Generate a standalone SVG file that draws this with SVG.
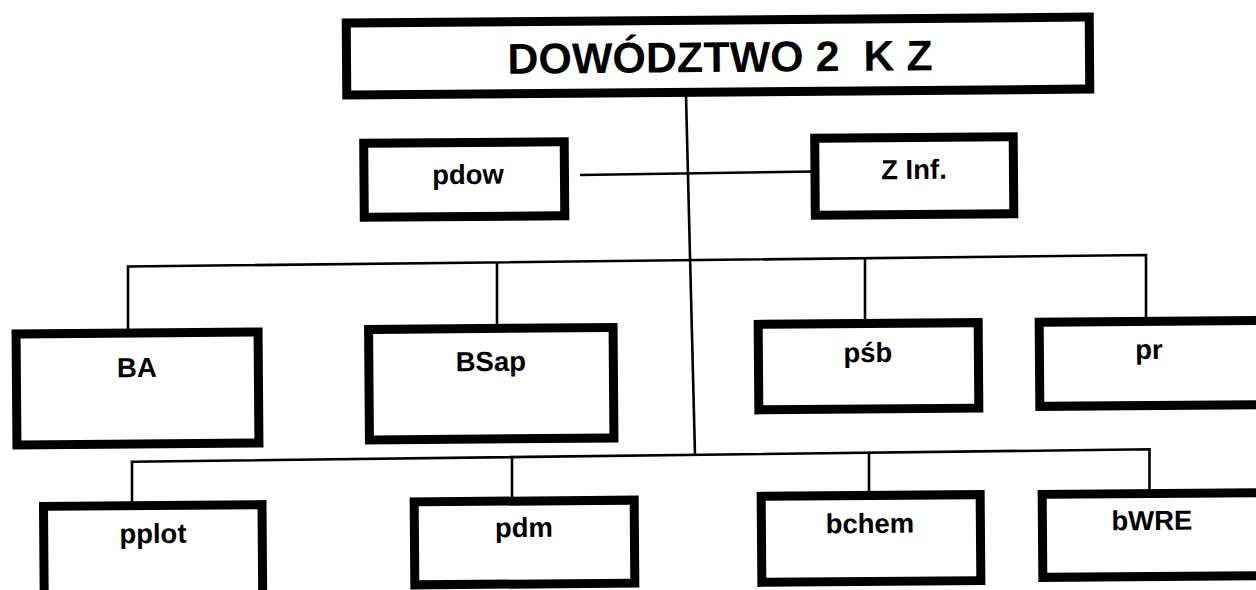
<svg xmlns="http://www.w3.org/2000/svg" width="1256" height="590" viewBox="0 0 1256 590">
  <style>
    .box { fill: #ffffff; stroke: #000000; stroke-width: 9; }
    .lbl { font-family: "Liberation Sans", Arial, sans-serif; font-weight: bold; font-size: 27.5px; text-anchor: middle; fill: #000000; }
    .title { font-size: 43px; white-space: pre; }
    .conn { fill: none; stroke: #000000; stroke-width: 2.6; stroke-linecap: butt; }
  </style>
  <rect x="0" y="0" width="1256" height="590" fill="#ffffff"/>
  <g id="connectors">
    <path class="conn" d="M686 96 L695 455"/>
    <path class="conn" d="M580 175 L815 171.5"/>
    <path class="conn" d="M128 330 L128 266.5 L1146 255 L1146 318"/>
    <path class="conn" d="M497 262.3 L497 325"/>
    <path class="conn" d="M865 258.2 L865 320"/>
    <path class="conn" d="M132 502 L132 461.7 L1149.5 449.3 L1149.5 490"/>
    <path class="conn" d="M512 457 L512 497"/>
    <path class="conn" d="M869 452.7 L869 492"/>
  </g>
  <g id="node-dowodztwo" transform="rotate(-0.45 718 56)">
    <rect class="box" x="346.5" y="20" width="743" height="72"/>
    <text class="lbl title" x="720" y="72" xml:space="preserve">DOWÓDZTWO 2  K Z</text>
  </g>
  <g id="node-pdow" transform="rotate(-0.45 464 180)">
    <rect class="box" x="364" y="142.5" width="200.5" height="74"/>
    <text class="lbl" x="468" y="184">pdow</text>
  </g>
  <g id="node-zinf" transform="rotate(-0.45 914 176)">
    <rect class="box" x="815" y="137.5" width="198.5" height="77"/>
    <text class="lbl" x="914" y="179">Z Inf.</text>
  </g>
  <g id="node-ba" transform="rotate(-0.45 137.5 388.5)">
    <rect class="box" x="16.5" y="333" width="242" height="111"/>
    <text class="lbl" x="137" y="377">BA</text>
  </g>
  <g id="node-bsap" transform="rotate(-0.45 491 384)">
    <rect class="box" x="369" y="328.5" width="244.5" height="110.5"/>
    <text class="lbl" x="491" y="371">BSap</text>
  </g>
  <g id="node-psb" transform="rotate(-0.45 868.5 366)">
    <rect class="box" x="758.5" y="323.5" width="220" height="85.5"/>
    <text class="lbl" x="868" y="362">pśb</text>
  </g>
  <g id="node-pr" transform="rotate(-0.45 1150 364)">
    <rect class="box" x="1039.5" y="321.3" width="222" height="84.2"/>
    <text class="lbl" x="1149" y="359">pr</text>
  </g>
  <g id="node-pplot" transform="rotate(-0.45 153 545)">
    <rect class="box" x="43.8" y="505.5" width="218.5" height="100"/>
    <text class="lbl" x="153" y="543">pplot</text>
  </g>
  <g id="node-pdm" transform="rotate(-0.45 524.5 542.5)">
    <rect class="box" x="414.5" y="501" width="220" height="83"/>
    <text class="lbl" x="524" y="537">pdm</text>
  </g>
  <g id="node-bchem" transform="rotate(-0.45 871 538.5)">
    <rect class="box" x="761.5" y="495.5" width="219" height="86"/>
    <text class="lbl" x="870" y="533">bchem</text>
  </g>
  <g id="node-bwre" transform="rotate(-0.45 1150 535)">
    <rect class="box" x="1042.5" y="493.5" width="222" height="83"/>
    <text class="lbl" x="1152" y="530">bWRE</text>
  </g>
</svg>
